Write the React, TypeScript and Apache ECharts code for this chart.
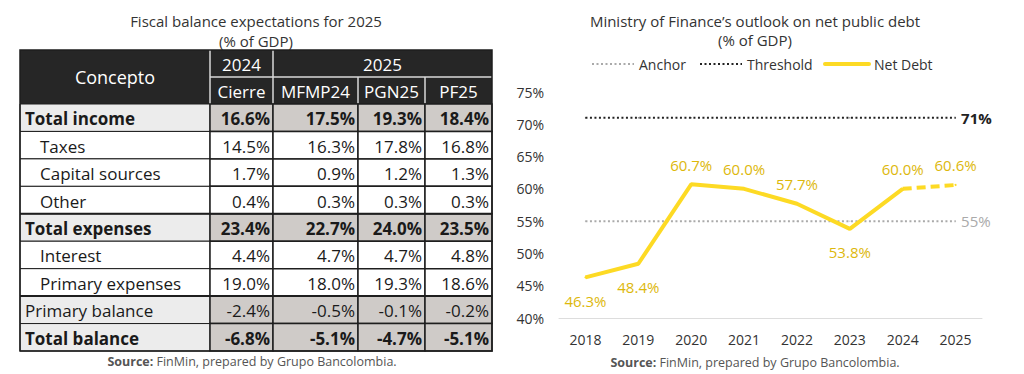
import React, { useEffect, useRef } from "react";
import * as echarts from "echarts";

// ---------- Table data ----------
const tableTitle = ["Fiscal balance expectations for 2025", "(% of GDP)"];
const headYears = ["2024", "2025"];
const headCols = ["Cierre", "MFMP24", "PGN25", "PF25"];
const rowLabels = [
  "Total income",
  "Taxes",
  "Capital sources",
  "Other",
  "Total expenses",
  "Interest",
  "Primary expenses",
  "Primary balance",
  "Total balance",
];
const rowKinds = ["total", "sub", "sub", "sub", "total", "sub", "sub", "mid", "total"];
const cierre2024 = [16.6, 14.5, 1.7, 0.4, 23.4, 4.4, 19.0, -2.4, -6.8];
const mfmp24 = [17.5, 16.3, 0.9, 0.3, 22.7, 4.7, 18.0, -0.5, -5.1];
const pgn25 = [19.3, 17.8, 1.2, 0.3, 24.0, 4.7, 19.3, -0.1, -4.7];
const pf25 = [18.4, 16.8, 1.3, 0.3, 23.5, 4.8, 18.6, -0.2, -5.1];

// ---------- Chart data ----------
const chartTitle = ["Ministry of Finance\u2019s outlook on net public debt", "(% of GDP)"];
const legendNames = ["Anchor", "Threshold", "Net Debt"];
const years = ["2018", "2019", "2020", "2021", "2022", "2023", "2024", "2025"];
const netDebt = [46.3, 48.4, 60.7, 60.0, 57.7, 53.8, 60.0, null];
const netDebtProj = [null, null, null, null, null, null, 60.0, 60.6];
const labelBelow = [true, true, false, false, false, true, false, false];
const anchor = [55, 55, 55, 55, 55, 55, 55, 55];
const threshold = [71, 71, 71, 71, 71, 71, 71, 71];
const sourceText = "FinMin, prepared by Grupo Bancolombia.";

const FONT = "'Open Sans', 'Noto Sans', sans-serif";
const YELLOW = "#FDDA24";
const LABEL_YELLOW = "#DDB80C";
const ANCHOR_GREY = "#aaaaaa";
const THRESH_BLACK = "#222222";
const DOT = [2, 2.5];

function buildTable(): any[] {
  const els: any[] = [];
  const colX = [20, 210, 273, 358, 425, 492];
  const headTop = 50;
  const headMid = 77;
  const bodyTop = 104;
  const bodyBottom = 351;
  const rowH = (bodyBottom - bodyTop) / rowLabels.length;
  const cols = [cierre2024, mfmp24, pgn25, pf25];
  const border = "#1e1e1e";

  els.push({
    type: "text",
    x: 256,
    y: 21,
    style: { text: tableTitle[0], font: `15px ${FONT}`, fill: "#333", align: "center", verticalAlign: "middle" },
  });
  els.push({
    type: "text",
    x: 256,
    y: 41,
    style: { text: tableTitle[1], font: `15px ${FONT}`, fill: "#333", align: "center", verticalAlign: "middle" },
  });

  els.push({
    type: "rect",
    shape: { x: colX[0], y: headTop, width: colX[5] - colX[0], height: bodyTop - headTop },
    style: { fill: "#262626" },
  });
  const sep = "#d8d8d8";
  els.push({ type: "line", shape: { x1: colX[1], y1: headTop, x2: colX[1], y2: bodyTop }, style: { stroke: sep, lineWidth: 1.5 } });
  els.push({ type: "line", shape: { x1: colX[2], y1: headTop, x2: colX[2], y2: bodyTop }, style: { stroke: sep, lineWidth: 1.5 } });
  els.push({ type: "line", shape: { x1: colX[3], y1: headMid, x2: colX[3], y2: bodyTop }, style: { stroke: sep, lineWidth: 1.5 } });
  els.push({ type: "line", shape: { x1: colX[4], y1: headMid, x2: colX[4], y2: bodyTop }, style: { stroke: sep, lineWidth: 1.5 } });
  els.push({ type: "line", shape: { x1: colX[1], y1: headMid, x2: colX[5], y2: headMid }, style: { stroke: sep, lineWidth: 1.5 } });

  els.push({
    type: "text",
    x: (colX[0] + colX[1]) / 2,
    y: (headTop + bodyTop) / 2,
    style: { text: "Concepto", font: `18px ${FONT}`, fill: "#fff", align: "center", verticalAlign: "middle" },
  });
  els.push({
    type: "text",
    x: (colX[1] + colX[2]) / 2,
    y: (headTop + headMid) / 2 + 1,
    style: { text: headYears[0], font: `17px ${FONT}`, fill: "#fff", align: "center", verticalAlign: "middle" },
  });
  els.push({
    type: "text",
    x: (colX[2] + colX[5]) / 2,
    y: (headTop + headMid) / 2 + 1,
    style: { text: headYears[1], font: `17px ${FONT}`, fill: "#fff", align: "center", verticalAlign: "middle" },
  });
  headCols.forEach((h, i) => {
    els.push({
      type: "text",
      x: (colX[i + 1] + colX[i + 2]) / 2,
      y: (headMid + bodyTop) / 2 + 1,
      style: { text: h, font: `17px ${FONT}`, fill: "#fff", align: "center", verticalAlign: "middle" },
    });
  });

  rowLabels.forEach((lab, r) => {
    const y0 = bodyTop + r * rowH;
    const kind = rowKinds[r];
    const shaded = kind !== "sub";
    const bold = kind === "total";
    els.push({
      type: "rect",
      shape: { x: colX[0], y: y0, width: colX[1] - colX[0], height: rowH },
      style: { fill: shaded ? "#ececec" : "#ffffff", stroke: border, lineWidth: 1 },
    });
    els.push({
      type: "text",
      x: colX[0] + (kind === "sub" ? 20 : 5),
      y: y0 + rowH / 2 + 1,
      style: {
        text: lab,
        font: `${bold ? "bold " : ""}17px ${FONT}`,
        fill: "#1a1a1a",
        align: "left",
        verticalAlign: "middle",
      },
    });
    cols.forEach((vals, c) => {
      els.push({
        type: "rect",
        shape: { x: colX[c + 1], y: y0, width: colX[c + 2] - colX[c + 1], height: rowH },
        style: { fill: shaded ? "#cfcbc8" : "#ffffff", stroke: border, lineWidth: 1.5 },
      });
      els.push({
        type: "text",
        x: colX[c + 2] - 3,
        y: y0 + rowH / 2 + 1,
        style: {
          text: vals[r].toFixed(1) + "%",
          font: `${bold ? "bold " : ""}17px ${FONT}`,
          fill: "#1a1a1a",
          align: "right",
          verticalAlign: "middle",
        },
      });
    });
  });
  els.push({ type: "line", shape: { x1: colX[0], y1: bodyTop + 7 * rowH, x2: colX[5], y2: bodyTop + 7 * rowH }, style: { stroke: border, lineWidth: 2 } });
  els.push({ type: "line", shape: { x1: colX[0], y1: bodyTop + 4 * rowH, x2: colX[5], y2: bodyTop + 4 * rowH }, style: { stroke: border, lineWidth: 2 } });
  els.push({
    type: "rect",
    shape: { x: colX[0], y: headTop, width: colX[5] - colX[0], height: bodyBottom - headTop },
    style: { fill: "none", stroke: border, lineWidth: 1.5 },
  });

  els.push({
    type: "text",
    x: 252,
    y: 361,
    style: {
      text: "{b|Source:} " + sourceText,
      font: `12.5px ${FONT}`,
      fill: "#555",
      align: "center",
      verticalAlign: "middle",
      rich: { b: { font: `bold 12.5px ${FONT}`, fill: "#555" } },
    },
  });
  return els;
}

function buildLegend(): any[] {
  const els: any[] = [];
  const y = 64;
  const items = [
    { x: 592, w: 42, stroke: ANCHOR_GREY, width: 2, dash: DOT },
    { x: 700, w: 42, stroke: THRESH_BLACK, width: 2, dash: DOT },
    { x: 825, w: 44, stroke: YELLOW, width: 4, dash: null },
  ];
  items.forEach((it, i) => {
    els.push({
      type: "line",
      shape: { x1: it.x, y1: y, x2: it.x + it.w, y2: y },
      style: { stroke: it.stroke, lineWidth: it.width, lineDash: it.dash || undefined, lineCap: it.dash ? "butt" : "round" },
    });
    els.push({
      type: "text",
      x: it.x + it.w + 5,
      y: y,
      style: { text: legendNames[i], font: `14px ${FONT}`, fill: "#333", align: "left", verticalAlign: "middle" },
    });
  });
  return els;
}

export default function App() {
  const ref = useRef<HTMLDivElement>(null);
  useEffect(() => {
    if (!ref.current) return;
    const chart = echarts.init(ref.current, undefined, { renderer: "svg" });
    const last = years.length - 1;

    const graphic: any[] = buildTable().concat(buildLegend());
    graphic.push({
      type: "text",
      x: 755,
      y: 21,
      style: { text: chartTitle[0], font: `15px ${FONT}`, fill: "#333", align: "center", verticalAlign: "middle" },
    });
    graphic.push({
      type: "text",
      x: 755,
      y: 40,
      style: { text: chartTitle[1], font: `15px ${FONT}`, fill: "#333", align: "center", verticalAlign: "middle" },
    });
    graphic.push({
      type: "text",
      x: 755,
      y: 362,
      style: {
        text: "{b|Source:} " + sourceText,
        font: `12.5px ${FONT}`,
        fill: "#555",
        align: "center",
        verticalAlign: "middle",
        rich: { b: { font: `bold 12.5px ${FONT}`, fill: "#555" } },
      },
    });

    const valueLabel = (below: boolean) => ({
      show: true,
      position: below ? "bottom" : "top",
      distance: below ? 15 : 11,
      formatter: (p: any) => Number(p.value).toFixed(1) + "%",
      color: LABEL_YELLOW,
      fontSize: 15,
      fontWeight: 500,
      fontFamily: FONT,
    });

    const option: any = {
      animation: false,
      textStyle: { fontFamily: FONT },
      graphic,
      grid: { left: 559, right: 42, top: 92, bottom: 56, containLabel: false },
      xAxis: {
        type: "category",
        data: years,
        boundaryGap: true,
        axisLine: { lineStyle: { color: "#dddddd", width: 1 } },
        axisTick: { show: false },
        axisLabel: { fontSize: 14, color: "#333", margin: 14, fontFamily: FONT },
      },
      yAxis: {
        type: "value",
        min: 40,
        max: 75,
        interval: 5,
        axisLine: { show: false },
        axisTick: { show: false },
        splitLine: { show: false },
        axisLabel: { formatter: "{value}%", fontSize: 14, color: "#333", margin: 15, fontFamily: FONT },
      },
      series: [
        {
          name: "Anchor",
          type: "line",
          data: anchor.map((v, i) =>
            i === last
              ? { value: v, label: { show: true, position: "right", distance: 5, formatter: "{c}%", color: ANCHOR_GREY, fontSize: 15 } }
              : v
          ),
          symbol: "circle",
          symbolSize: 1,
          showSymbol: true,
          lineStyle: { color: ANCHOR_GREY, width: 2, type: DOT },
          itemStyle: { color: ANCHOR_GREY },
          z: 1,
        },
        {
          name: "Threshold",
          type: "line",
          data: threshold.map((v, i) =>
            i === last
              ? {
                  value: v,
                  label: { show: true, position: "right", distance: 5, formatter: "{c}%", color: THRESH_BLACK, fontSize: 15, fontWeight: "bold" },
                }
              : v
          ),
          symbol: "circle",
          symbolSize: 1,
          showSymbol: true,
          lineStyle: { color: THRESH_BLACK, width: 2, type: DOT },
          itemStyle: { color: THRESH_BLACK },
          z: 1,
        },
        {
          name: "Net Debt",
          type: "line",
          data: netDebt.map((v, i) => (v === null ? null : { value: v, label: valueLabel(labelBelow[i]) })),
          symbol: "circle",
          symbolSize: 2,
          showSymbol: true,
          lineStyle: { color: YELLOW, width: 4 },
          itemStyle: { color: YELLOW },
          z: 3,
        },
        {
          name: "Net Debt (projection)",
          type: "line",
          data: netDebtProj.map((v, i) =>
            v === null ? null : i === last ? { value: v, label: valueLabel(labelBelow[i]) } : v
          ),
          symbol: "circle",
          symbolSize: 2,
          showSymbol: true,
          lineStyle: { color: YELLOW, width: 4, type: [9, 5] },
          itemStyle: { color: YELLOW },
          z: 3,
        },
      ],
    };
    chart.setOption(option);
    return () => chart.dispose();
  }, []);
  return (
    <div
      ref={ref}
      style={{ position: "absolute", left: 0, top: 0, width: 1024, height: 374, background: "#fff" }}
    />
  );
}
